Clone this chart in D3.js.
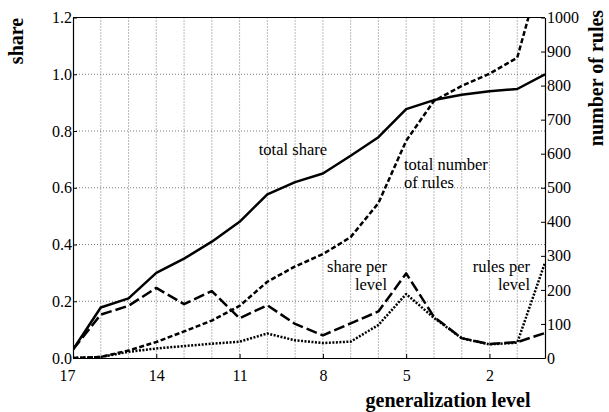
<!DOCTYPE html>
<html>
<head>
<meta charset="utf-8">
<script src="https://cdn.jsdelivr.net/npm/d3@7"></script>
<style>
  body { margin: 0; background: #fff; }
  svg { display: block; }
  .grid line { stroke: #555; stroke-width: 0.8; stroke-dasharray: 1,2; }
  .series { fill: none; stroke: #000; stroke-width: 2.5; stroke-linejoin: round; }
</style>
</head>
<body>
<div id="wrapper"></div>
<script>
// generalization levels, left to right
const levels = [17, 16, 15, 14, 13, 12, 11, 10, 9, 8, 7, 6, 5, 4, 3, 2, 1, 0]

// left axis (share)
const totalShare = [0.03, 0.178, 0.21, 0.30, 0.35, 0.41, 0.48, 0.577, 0.62, 0.65, 0.713, 0.778, 0.877, 0.909, 0.928, 0.94, 0.948, 1.0]
const sharePerLevel = [0.03, 0.153, 0.184, 0.247, 0.19, 0.236, 0.14, 0.186, 0.12, 0.08, 0.122, 0.164, 0.298, 0.145, 0.07, 0.049, 0.056, 0.088]

// right axis (number of rules)
const totalRules = [0, 3, 22, 47, 78, 110, 153, 224, 269, 305, 355, 455, 638, 755, 799, 835, 882, 1175]
const rulesPerLevel = [0, 3, 18, 28, 35, 42, 48, 72, 52, 44, 48, 97, 188, 118, 58, 40, 45, 280]

const xTicks = [17, 14, 11, 8, 5, 2]
const shareTicks = [0, 0.2, 0.4, 0.6, 0.8, 1.0, 1.2]
const rulesTicks = [0, 100, 200, 300, 400, 500, 600, 700, 800, 900, 1000]

// in-plot labels: text, level, share, anchor
const annotations = [
    ['total share', 7.85, 0.715, 'end'],
    ['total number', 5.08, 0.664, 'start'],
    ['of rules', 5.08, 0.598, 'start'],
    ['share per', 5.69, 0.304, 'end'],
    ['level', 5.69, 0.240, 'end'],
    ['rules per', 0.54, 0.304, 'end'],
    ['level', 0.54, 0.240, 'end'],
]

// pick the first serif face the browser actually has
function pickSerif() {
    const candidates = ['Liberation Serif', 'Times New Roman', 'Times', 'Tinos', 'Noto Serif',
        'DejaVu Serif', 'FreeSerif', 'Nimbus Roman', 'Nimbus Roman No9 L', 'serif']
    const ctx = document.createElement('canvas').getContext('2d')
    const sample = 'generalization level 0123456789 mmwwii'
    ctx.font = '20px monospace'
    const mono = ctx.measureText(sample).width
    ctx.font = '20px sans-serif'
    const sans = ctx.measureText(sample).width
    for (const c of candidates) {
        ctx.font = `20px "${c}", monospace`
        const w1 = ctx.measureText(sample).width
        ctx.font = `20px "${c}", sans-serif`
        const w2 = ctx.measureText(sample).width
        if (w1 !== mono || w2 !== sans) return `"${c}", serif`
    }
    return 'serif'
}

function drawChart() {

    //#region dimensions
    const width = 609
    const height = 412
    const margin = { top: 17.5, right: 64, bottom: 54, left: 73 }
    const innerW = width - margin.left - margin.right
    const innerH = height - margin.top - margin.bottom
    //#endregion

    const serif = pickSerif()
    console.log('font', serif)

    const svg = d3.select('#wrapper').append('svg')
        .attr('width', width)
        .attr('height', height)
        .style('font-family', serif)

    const bounds = svg.append('g')
        .attr('transform', `translate(${margin.left},${margin.top})`)

    //#region scales
    const x = d3.scaleLinear().domain([17, 0]).range([0, innerW])
    const yShare = d3.scaleLinear().domain([0, 1.2]).range([innerH, 0])
    const yRules = d3.scaleLinear().domain([0, 1000]).range([innerH, 0])
    //#endregion

    bounds.append('clipPath').attr('id', 'clip')
        .append('rect').attr('width', innerW).attr('height', innerH)

    //#region grid
    const grid = bounds.append('g').attr('class', 'grid')
    grid.selectAll('.vgrid')
        .data(d3.range(16, 0, -1))
        .enter().append('line')
        .attr('x1', d => x(d)).attr('x2', d => x(d))
        .attr('y1', 0).attr('y2', innerH)
    grid.selectAll('.hgrid')
        .data([0.2, 0.4, 0.6, 0.8, 1.0])
        .enter().append('line')
        .attr('x1', 0).attr('x2', innerW)
        .attr('y1', d => yShare(d)).attr('y2', d => yShare(d))
    //#endregion

    //#region axes
    const xAxis = bounds.append('g')
        .attr('transform', `translate(0,${innerH})`)
        .call(d3.axisBottom(x).tickValues(xTicks).tickFormat(d3.format('d'))
            .tickSizeInner(-4).tickSizeOuter(0).tickPadding(12))
    xAxis.selectAll('text')
        .attr('dx', d => d === 17 ? -6 : 0)

    const yAxisL = bounds.append('g')
        .call(d3.axisLeft(yShare).tickValues(shareTicks).tickFormat(d3.format('.1f'))
            .tickSizeInner(-4).tickSizeOuter(0).tickPadding(1))

    const yAxisR = bounds.append('g')
        .attr('transform', `translate(${innerW},0)`)
        .call(d3.axisRight(yRules).tickValues(rulesTicks).tickFormat(d3.format('d'))
            .tickSizeInner(-4).tickSizeOuter(0).tickPadding(2))

    ;[xAxis, yAxisL, yAxisR].forEach(ax => {
        ax.attr('font-family', null).attr('font-size', null)
        ax.selectAll('text')
            .attr('fill', '#000')
            .style('font-family', serif)
            .style('font-size', '16px')
    })

    bounds.selectAll('.domain').attr('stroke', '#000').attr('stroke-width', 1.2)
    bounds.selectAll('.tick line').attr('stroke', '#000')

    // top border
    bounds.append('line')
        .attr('x1', 0).attr('x2', innerW).attr('y1', 0).attr('y2', 0)
        .attr('stroke', '#000').attr('stroke-width', 1.2)
    //#endregion

    //#region lines
    const plot = bounds.append('g').attr('clip-path', 'url(#clip)')

    const shareLine = d3.line().x((d, i) => x(levels[i])).y(d => yShare(d))
    const rulesLine = d3.line().x((d, i) => x(levels[i])).y(d => yRules(d))

    plot.append('path').datum(rulesPerLevel)
        .attr('class', 'series').attr('d', rulesLine)
        .attr('stroke-dasharray', '2,1.5')
    plot.append('path').datum(totalRules)
        .attr('class', 'series').attr('d', rulesLine)
        .attr('stroke-dasharray', '5,2.5')
    plot.append('path').datum(sharePerLevel)
        .attr('class', 'series').attr('d', shareLine)
        .attr('stroke-dasharray', '11,4')
    plot.append('path').datum(totalShare)
        .attr('class', 'series').attr('d', shareLine)
    //#endregion

    //#region labels
    bounds.selectAll('.annot')
        .data(annotations)
        .enter().append('text')
        .attr('class', 'annot')
        .attr('x', d => x(d[1]))
        .attr('y', d => yShare(d[2]))
        .attr('text-anchor', d => d[3])
        .style('font-family', serif)
        .style('font-size', '16.5px')
        .text(d => d[0])

    const title = (t, tr) => svg.append('text')
        .attr('transform', tr)
        .attr('text-anchor', 'middle')
        .style('font-family', serif)
        .style('font-weight', 'bold')
        .style('font-size', '20px')
        .text(t)

    title('share', 'translate(23,41) rotate(-90)')
    title('number of rules', 'translate(603,78) rotate(-90)')
    title('generalization level', 'translate(448,407)')
    //#endregion
}

drawChart()
</script>
</body>
</html>
